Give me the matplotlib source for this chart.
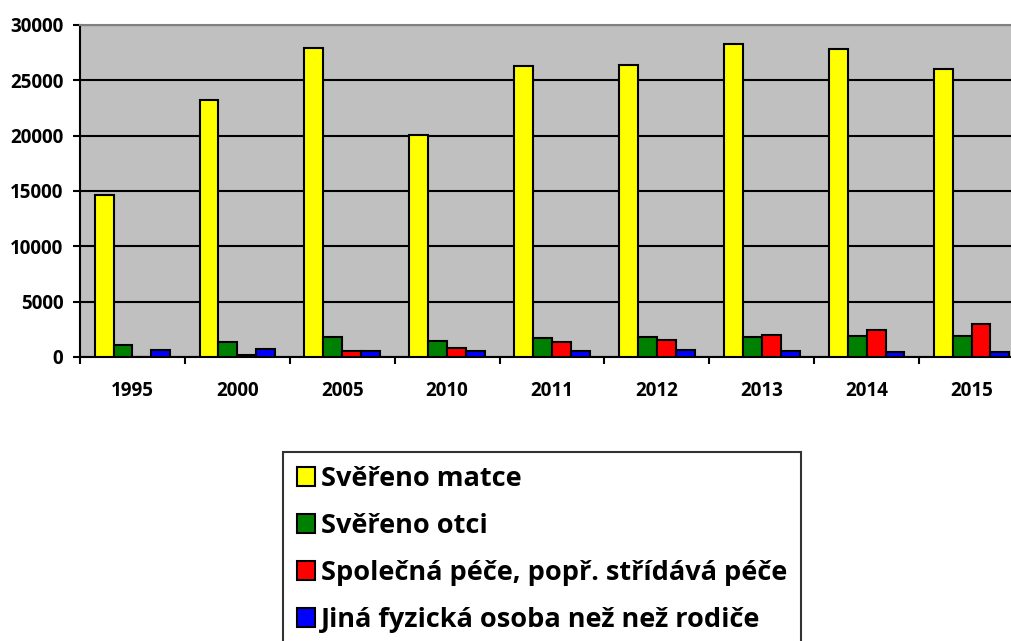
import matplotlib.pyplot as plt
import numpy as np

years = ["1995", "2000", "2005", "2010", "2011", "2012", "2013", "2014", "2015"]
matka = [14600, 23200, 27900, 20050, 26300, 26350, 28300, 27800, 26000]
otec = [1100, 1400, 1850, 1450, 1700, 1850, 1800, 1900, 1900]
spolecna = [0, 200, 500, 850, 1400, 1500, 2000, 2400, 3000]
jina = [600, 750, 580, 520, 570, 600, 520, 450, 450]

labels = ["Svěřeno matce", "Svěřeno otci",
          "Společná péče, popř. střídává péče", "Jiná fyzická osoba než než rodiče"]
colors = ["#FFFF00", "#008000", "#FF0000", "#0000FF"]

plt.rcParams['font.family'] = ['Open Sans', 'DejaVu Sans']

fig = plt.figure(figsize=(10.12, 6.41), dpi=100)
ax = fig.add_axes([80 / 1012, 1 - 357 / 641, 944 / 1012, 332 / 641])
ax.set_facecolor("#C0C0C0")

x = np.arange(len(years))
w = 0.18
series = [matka, otec, spolecna, jina]
handles = []
for i, (vals, col, lab) in enumerate(zip(series, colors, labels)):
    h = ax.bar(x + (i - 1.5) * w, vals, width=w, color=col, edgecolor="black",
               linewidth=1.5, label=lab, zorder=3)
    handles.append(h)

ax.set_xlim(-0.5, len(years) - 0.5)
ax.set_ylim(0, 30000)
ax.set_yticks(np.arange(0, 30001, 5000))
ax.yaxis.grid(True, color="black", linewidth=1.5, zorder=1)
ax.set_axisbelow(True)
ax.tick_params(axis="y", length=5, width=1.5, labelsize=13.5, pad=7)
for t in ax.get_yticklabels():
    t.set_fontweight("bold")

ax.set_xticks(np.arange(-0.5, len(years), 1.0))
ax.set_xticklabels([])
ax.tick_params(axis="x", which="major", length=5, width=1.5)
ax.set_xticks(x, minor=True)
ax.set_xticklabels(years, minor=True, fontsize=13.5, fontweight="bold")
ax.tick_params(axis="x", which="minor", length=0, pad=17)

ax.spines["left"].set_linewidth(1.5)
ax.spines["bottom"].set_linewidth(1.5)
ax.spines["top"].set_color("#808080")
ax.spines["top"].set_linewidth(1.5)
ax.spines["right"].set_visible(False)

leg = fig.legend(handles=handles, loc="upper left",
                 bbox_to_anchor=(283 / 1012, 1 - 452 / 641),
                 prop={"weight": "bold", "size": 19.5},
                 frameon=True, fancybox=False, edgecolor="black",
                 handlelength=0.7, handleheight=0.7, handletextpad=0.2,
                 labelspacing=0.78, borderpad=0.5, borderaxespad=0)
leg.get_frame().set_linewidth(1.5)

plt.savefig("out.png", dpi=100)
